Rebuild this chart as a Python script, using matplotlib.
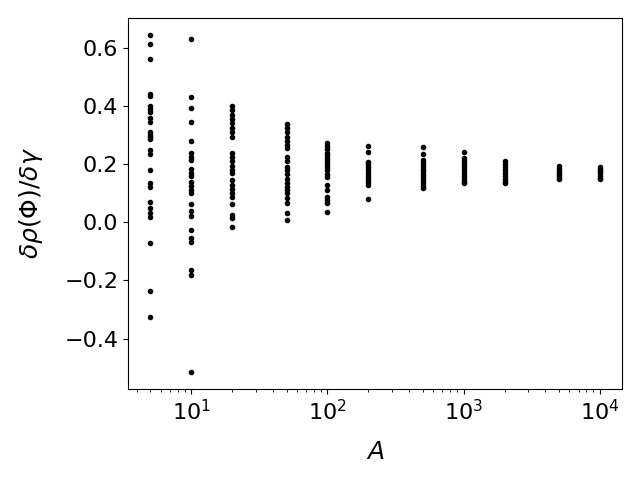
import matplotlib
matplotlib.use("Agg")
import matplotlib.pyplot as plt
import numpy as np

A_values = [5, 10, 20, 50, 100, 200, 500, 1000, 2000, 5000, 10000]

y_5 = [0.645, 0.614, 0.562, 0.44, 0.435, 0.40, 0.39, 0.38, 0.36, 0.345, 0.31, 0.30,
       0.295, 0.285, 0.25, 0.235, 0.18, 0.135, 0.12, 0.07, 0.048, 0.031, 0.017,
       -0.07, -0.235, -0.325]
y_10 = [0.63, 0.43, 0.395, 0.345, 0.28, 0.24, 0.225, 0.215, 0.185, 0.17, 0.16, 0.14,
        0.125, 0.11, 0.10, 0.062, 0.04, 0.02, -0.028, -0.055, -0.068, -0.163, -0.18,
        -0.515]
y_20 = [0.40, 0.385, 0.37, 0.355, 0.34, 0.325, 0.31, 0.295, 0.24, 0.225, 0.21, 0.195,
        0.18, 0.17, 0.145, 0.13, 0.115, 0.10, 0.086, 0.062, 0.024, 0.014, -0.017]
y_50 = [0.338, 0.325, 0.31, 0.295, 0.28, 0.265, 0.255, 0.224, 0.21, 0.19, 0.18, 0.165,
        0.15, 0.135, 0.12, 0.11, 0.10, 0.085, 0.065, 0.031, 0.007]
y_100 = [0.272, 0.262, 0.252, 0.24, 0.23, 0.22, 0.21, 0.2, 0.19, 0.18, 0.165, 0.155,
         0.128, 0.11, 0.086, 0.075, 0.065, 0.034]
y_200 = [0.262, 0.242, 0.207, 0.2, 0.19, 0.18, 0.17, 0.16, 0.15, 0.14, 0.128, 0.079]
y_500 = [0.259, 0.234, 0.214, 0.205, 0.195, 0.185, 0.175, 0.165, 0.155, 0.145, 0.135,
         0.125, 0.117]
y_1000 = [0.242, 0.22, 0.21, 0.2, 0.19, 0.18, 0.17, 0.16, 0.15, 0.14, 0.134]
y_2000 = [0.21, 0.2, 0.19, 0.18, 0.17, 0.16, 0.15, 0.14, 0.135]
y_5000 = [0.193, 0.185, 0.178, 0.17, 0.163, 0.155, 0.148]
y_10000 = [0.19, 0.182, 0.175, 0.168, 0.16, 0.153, 0.148]

series = [y_5, y_10, y_20, y_50, y_100, y_200, y_500, y_1000, y_2000, y_5000, y_10000]

fig, ax = plt.subplots(figsize=(6.4, 4.8), dpi=100)
for a, ys in zip(A_values, series):
    ax.plot([a] * len(ys), ys, 'k.')

ax.set_xscale('log')
ax.set_xlabel(r'$A$', fontsize=18, labelpad=12)
ax.set_ylabel(r'$\delta\rho(\Phi)/\delta\gamma$', fontsize=18, labelpad=14)
ax.tick_params(labelsize=16)
fig.subplots_adjust(left=0.2, right=0.972, top=0.9625, bottom=0.19)
fig.savefig('out.png', dpi=100)
